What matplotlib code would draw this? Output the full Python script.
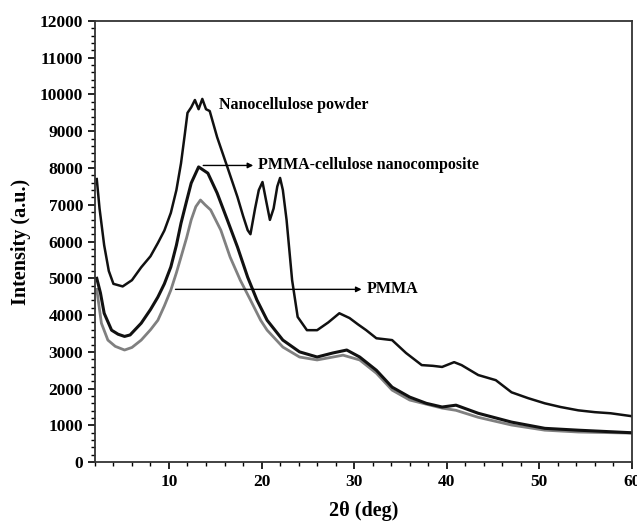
import matplotlib
matplotlib.use("Agg")
import matplotlib.pyplot as plt
from matplotlib.ticker import MultipleLocator

# XRD patterns (2-theta in deg, intensity a.u.)
nano_x = [2.2, 2.5, 3.0, 3.5, 4.0, 5.0, 6.0, 7.0, 8.0, 8.8, 9.5, 10.2, 10.8, 11.3,
          11.7, 12.0, 12.4, 12.8, 13.2, 13.6, 14.0, 14.4, 15.2, 16.3, 17.4, 18.0,
          18.5, 18.8, 19.3, 19.7, 20.1, 20.5, 20.9, 21.3, 21.7, 22.0, 22.3, 22.7,
          23.3, 23.9, 24.9, 26.0, 27.2, 28.4, 29.5, 30.4, 31.3, 32.4, 34.1, 35.6,
          37.3, 38.5, 39.5, 40.8, 41.6, 43.4, 45.3, 47.0, 48.8, 50.6, 52.3, 54.2,
          56.0, 57.7, 60.0]
nano_y = [7700, 6900, 5900, 5200, 4850, 4780, 4950, 5300, 5600, 5960, 6300, 6780,
          7400, 8130, 8900, 9500, 9650, 9850, 9600, 9880, 9600, 9550, 8840, 8030,
          7210, 6700, 6310, 6200, 6900, 7400, 7620, 7100, 6590, 6900, 7500, 7730,
          7400, 6590, 4950, 3950, 3590, 3590, 3800, 4050, 3920, 3750, 3590, 3370,
          3320, 2970, 2640, 2620, 2590, 2720, 2640, 2370, 2230, 1900, 1740, 1600,
          1500, 1410, 1360, 1330, 1250]

comp_x = [2.2, 2.6, 3.0, 3.8, 4.5, 5.2, 5.8, 7.0, 8.0, 8.8, 9.5, 10.2, 10.8, 11.3,
          11.9, 12.4, 13.2, 14.2, 15.2, 16.3, 17.4, 18.5, 19.5, 20.6, 22.3, 24.1,
          26.0, 27.7, 29.2, 30.6, 32.4, 34.1, 36.0, 37.8, 39.5, 41.0, 43.4, 47.0,
          50.6, 54.2, 60.0]
comp_y = [5000, 4600, 4050, 3590, 3480, 3420, 3460, 3780, 4150, 4490, 4850, 5310,
          5900, 6500, 7100, 7590, 8030, 7860, 7320, 6590, 5850, 5030, 4410, 3860,
          3320, 3000, 2860, 2970, 3050, 2860, 2500, 2040, 1770, 1600, 1500, 1550,
          1330, 1090, 920, 870, 800]

pmma_x = [2.2, 2.7, 3.4, 4.2, 5.2, 6.0, 7.0, 8.0, 8.8, 9.5, 10.2, 10.8, 11.3, 11.9,
          12.4, 12.9, 13.4, 13.9, 14.5, 15.6, 16.6, 17.7, 18.8, 19.9, 20.6, 22.3,
          24.1, 26.0, 28.8, 30.6, 32.4, 34.1, 36.0, 39.5, 41.0, 43.4, 47.0, 50.6,
          54.2, 60.0]
pmma_y = [4700, 3780, 3320, 3150, 3050, 3120, 3320, 3600, 3860, 4250, 4680, 5150,
          5580, 6100, 6590, 6950, 7130, 7000, 6860, 6310, 5580, 4950, 4410, 3860,
          3590, 3130, 2860, 2780, 2910, 2780, 2420, 1960, 1690, 1470, 1410, 1220,
          1010, 870, 820, 790]

plt.rcParams["font.family"] = ["Liberation Serif", "DejaVu Serif"]
plt.rcParams["font.weight"] = "bold"

fig = plt.figure(figsize=(6.37, 5.24), dpi=100)
ax = fig.add_axes([0.149, 0.118, 0.843, 0.842])

ax.plot(pmma_x, pmma_y, color="#808080", lw=2.0)
ax.plot(comp_x, comp_y, color="#111111", lw=2.2)
ax.plot(nano_x, nano_y, color="#111111", lw=1.8)

ax.set_xlim(2, 60)
ax.set_ylim(0, 12000)
ax.xaxis.set_major_locator(MultipleLocator(10))
ax.xaxis.set_minor_locator(MultipleLocator(2))
ax.yaxis.set_major_locator(MultipleLocator(1000))
ax.yaxis.set_minor_locator(MultipleLocator(200))
ax.tick_params(which="major", direction="out", length=5, width=1.2, labelsize=12.5)
ax.tick_params(which="minor", direction="out", length=3, width=1)
for lab in ax.get_xticklabels() + ax.get_yticklabels():
    lab.set_fontweight("bold")
for sp in ax.spines.values():
    sp.set_linewidth(1.3)
    sp.set_color("#333333")

ax.set_xlabel("2\u03b8 (deg)", fontsize=14.5, fontweight="bold", labelpad=8)
ax.set_ylabel("Intensity (a.u.)", fontsize=14.5, fontweight="bold", labelpad=6)

# labels and arrows
ax.text(15.4, 9720, "Nanocellulose powder", fontsize=11.5, fontweight="bold", va="center")
arrow = dict(arrowstyle="-|>", color="black", lw=1, mutation_scale=8)
ax.annotate("", xy=(19.4, 8070), xytext=(13.4, 8070), arrowprops=arrow)
ax.text(19.6, 8070, "PMMA-cellulose nanocomposite", fontsize=11.5, fontweight="bold", va="center")
ax.annotate("", xy=(31.1, 4700), xytext=(10.4, 4700), arrowprops=arrow)
ax.text(31.4, 4720, "PMMA", fontsize=11.5, fontweight="bold", va="center")

fig.savefig("out.png", dpi=100)
